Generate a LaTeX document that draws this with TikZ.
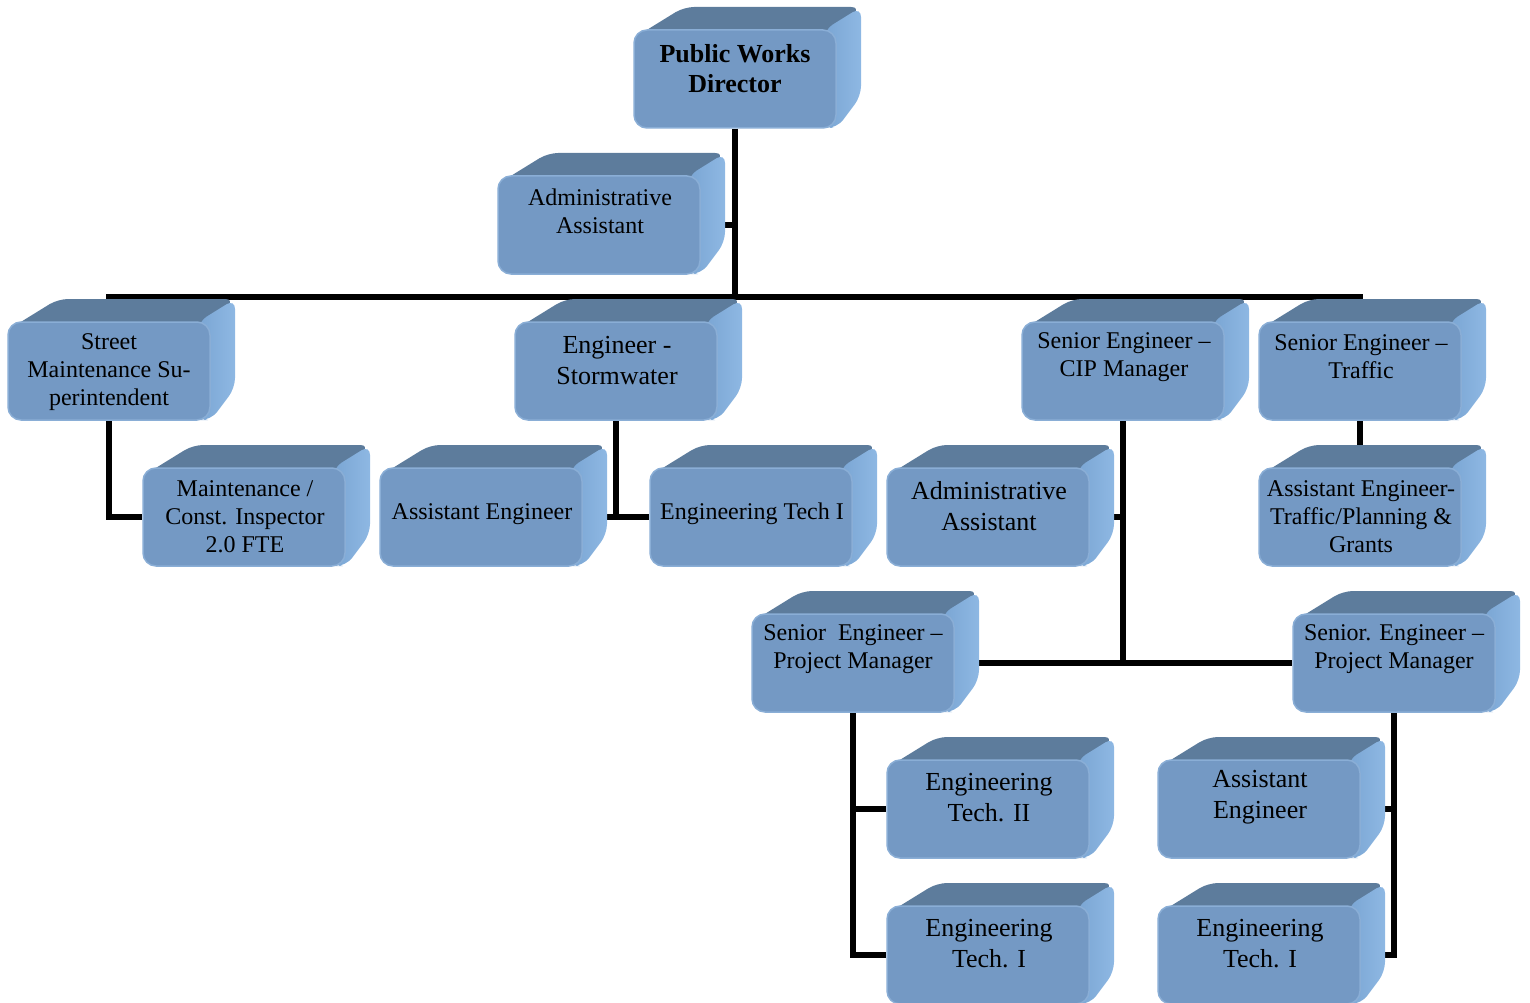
\documentclass[tikz,border=0pt]{standalone}
\usepackage{fontspec}
\setmainfont{Liberation Serif}
\usetikzlibrary{calc}
\pgfdeclarelayer{background}
\pgfsetlayers{background,main}
\definecolor{frontc}{HTML}{7499C4}
\definecolor{frontl}{HTML}{8AAED6}
\definecolor{topc}{HTML}{5D7C9C}
\definecolor{sidel}{HTML}{7AA5D3}
\definecolor{sider}{HTML}{8EB8E3}
\tikzset{
  frontface/.style={fill=frontc,draw=frontl,line width=1.5pt,rounded corners=13pt,minimum width=202pt,minimum height=98pt,inner sep=0pt},
  topface/.style={fill=topc,rounded corners=10pt},
  sideface/.style={left color=sidel,right color=sider,rounded corners=10pt},
  small/.style={align=center,inner sep=0pt,font={\fontsize{24}{28}\selectfont}},
  big/.style={align=center,inner sep=0pt,font={\fontsize{26}{31}\selectfont}},
  conn/.style={line width=5.5pt,draw=black}
}
\newcommand\cube[3]{%
  \fill[topface] (#2+3,#3+6) -- (#2+50,#3-23) -- (#2+227,#3-23) -- (#2+196,#3+6) -- cycle;
  \path[sideface] (#2+190,#3) -- (#2+227,#3-23) -- (#2+227,#3+66) -- (#2+203,#3+98) -- (#2+190,#3+98) -- cycle;
  \node[frontface] (#1) at (#2+101,#3+49) {};
}
\begin{document}
\begin{tikzpicture}[x=1pt,y=-1pt]
\useasboundingbox (0,0) rectangle (1530,1003);
\clip (0,0) rectangle (1530,1003);
\cube{dir}{634}{30}
\cube{adm1}{498}{176}
\cube{street}{8}{322}
\cube{storm}{515}{322}
\cube{cip}{1022}{322}
\cube{traffic}{1259}{322}
\cube{maint}{143}{468}
\cube{ae1}{380}{468}
\cube{et1}{650}{468}
\cube{adm2}{887}{468}
\cube{aet}{1259}{468}
\cube{pm1}{752}{614}
\cube{pm2}{1293}{614}
\cube{et2}{887}{760}
\cube{ae2}{1158}{760}
\cube{etl}{887}{906}
\cube{etr}{1158}{906}

\node[big,font={\bfseries\fontsize{26}{30}\selectfont}] (t-dir) at (735,69) {Public Works\\Director};
\node[small] (t-adm1) at (600,211) {Administrative\\Assistant};
\node[small] (t-street) at (109,372) {Street\\Maintenance Su-\\perintendent};
\node[big] (t-storm) at (617,360.5) {Engineer -\\Stormwater};
\node[small] (t-cip) at (1124,357) {Senior Engineer –\\CIP Manager};
\node[small] (t-traffic) at (1361,357) {Senior Engineer –\\Traffic};
\node[small] (t-maint) at (245,517) {Maintenance /\\Const. Inspector\\2.0 FTE};
\node[small] (t-ae1) at (482,514) {Assistant Engineer};
\node[small] (t-et1) at (752,514) {Engineering Tech I};
\node[big] (t-adm2) at (989,506.5) {Administrative\\Assistant};
\node[small] (t-aet) at (1361,517) {Assistant Engineer-\\Traffic/Planning \&\\Grants};
\node[small] (t-pm1) at (853,649) {Senior\ \ Engineer –\\Project Manager};
\node[small] (t-pm2) at (1394,649) {Senior. Engineer –\\Project Manager};
\node[big] (t-et2) at (989,797.5) {Engineering\\Tech. II};
\node[big] (t-ae2) at (1260,797.5) {Assistant\\Engineer};
\node[big] (t-etl) at (989,943.5) {Engineering\\Tech. I};
\node[big] (t-etr) at (1260,943.5) {Engineering\\Tech. I};

\coordinate (j0) at (735,297);
\begin{pgfonlayer}{background}
\draw[conn] (dir.south) -- (dir.south |- j0);
\draw[conn] (adm1.east) -- (adm1.east -| dir.south);
\draw[conn] (street.north) -- (street.north |- j0) -- (traffic.north |- j0) -- (traffic.north);
\draw[conn] (storm.north) -- (storm.north |- j0);
\draw[conn] (cip.north) -- (cip.north |- j0);
\draw[conn] (street.south) |- (maint.west);
\draw[conn] (storm.south) -- (storm.south |- ae1.east);
\draw[conn] (ae1.east) -- (et1.west);
\draw[conn] (cip.south) -- (cip.south |- pm1.east);
\draw[conn] (adm2.east) -- (adm2.east -| cip.south);
\draw[conn] (pm1.east) -- (pm2.west);
\draw[conn] (traffic.south) -- (aet.north);
\draw[conn] (pm1.south) |- (et2.west);
\draw[conn] (pm1.south) |- (etl.west);
\draw[conn] (pm2.south) |- (ae2.east);
\draw[conn] (pm2.south) |- (etr.east);
\end{pgfonlayer}
\end{tikzpicture}
\end{document}
